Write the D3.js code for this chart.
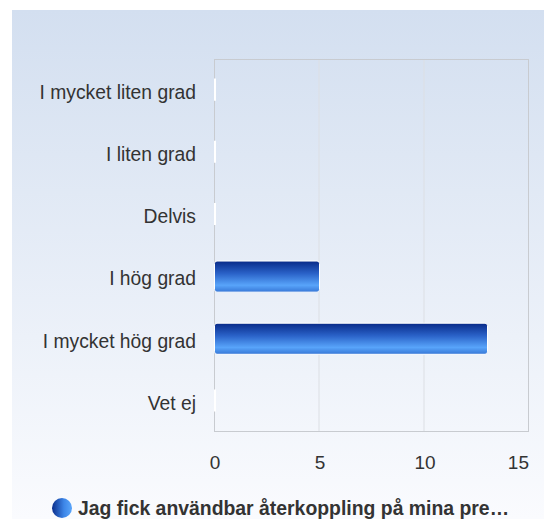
<!DOCTYPE html>
<html><head><meta charset="utf-8">
<script src="https://cdn.jsdelivr.net/npm/d3@7"></script>
<style>html,body{margin:0;padding:0;background:#fff;}svg{display:block;font-family:"Liberation Sans",Arial,sans-serif;}</style>
</head><body>
<script>
const categories = ["I mycket liten grad","I liten grad","Delvis","I hög grad","I mycket hög grad","Vet ej"];
const values = [0,0,0,5,13,0];
const tickValues = [0,5,10,15];
const seriesName = "Jag fick användbar återkoppling på mina pre…";

const W=544,H=519;
const svg=d3.select("body").append("svg").attr("width",W).attr("height",H);
const defs=svg.append("defs");
const bg=defs.append("linearGradient").attr("id","bg").attr("x1",0).attr("y1",0).attr("x2",0).attr("y2",1);
bg.append("stop").attr("offset","0%").attr("stop-color","#d3dff0");
bg.append("stop").attr("offset","100%").attr("stop-color","#fafbfe");
const bar=defs.append("linearGradient").attr("id","bar").attr("x1",0).attr("y1",0).attr("x2",0).attr("y2",1);
bar.append("stop").attr("offset","0%").attr("stop-color","#082a88");
bar.append("stop").attr("offset","40%").attr("stop-color","#2a62c8");
bar.append("stop").attr("offset","78%").attr("stop-color","#58a4fa");
bar.append("stop").attr("offset","100%").attr("stop-color","#3676d6");
const leg=defs.append("linearGradient").attr("id","leg").attr("x1",0).attr("y1",0).attr("x2",1).attr("y2",0);
leg.append("stop").attr("offset","0%").attr("stop-color","#0a2e8c");
leg.append("stop").attr("offset","60%").attr("stop-color","#3d86e8");
leg.append("stop").attr("offset","100%").attr("stop-color","#5aa6fb");

svg.append("rect").attr("x",12).attr("y",10).attr("width",W-12).attr("height",H-10).attr("fill","url(#bg)");

const m={l:214,r:529,t:59,b:432};
const x=d3.scaleLinear().domain([0,15]).range([m.l,m.r]);
const y=d3.scaleBand().domain(categories).range([m.t,m.b]).paddingInner(0.5).paddingOuter(0.25);

// grid
svg.append("g").selectAll("line").data(tickValues.slice(1,-1)).join("line")
  .attr("x1",d=>x(d)).attr("x2",d=>x(d)).attr("y1",m.t).attr("y2",m.b)
  .attr("stroke","#dcdfe4").attr("stroke-width",1);
svg.append("rect").attr("x",m.l+0.5).attr("y",m.t+0.5).attr("width",m.r-m.l-1).attr("height",m.b-m.t-1)
  .attr("fill","none").attr("stroke","#c8cbd0");

// bars
const data=categories.map((c,i)=>({c,v:values[i]}));
svg.append("g").selectAll("rect").data(data.filter(d=>d.v>0)).join("rect")
  .attr("x",x(0)+0.5).attr("y",d=>y(d.c)).attr("width",d=>x(d.v)-x(0)).attr("height",y.bandwidth())
  .attr("rx",2.5).attr("fill","url(#bar)").attr("stroke","#fff").attr("stroke-width",1);
svg.append("g").selectAll("line").data(data.filter(d=>d.v===0)).join("line")
  .attr("x1",x(0)+1).attr("x2",x(0)+1).attr("y1",d=>y(d.c)+4).attr("y2",d=>y(d.c)+y.bandwidth()-5)
  .attr("stroke","#fff").attr("stroke-width",2);

// y labels
svg.append("g").selectAll("text").data(categories).join("text")
  .attr("x",m.l-18).attr("y",d=>y(d)+y.bandwidth()/2+2).attr("dy","0.35em")
  .attr("text-anchor","end").attr("font-size",19.3).attr("fill","#333").text(d=>d);

// x ticks
svg.append("g").selectAll("text").data(tickValues).join("text")
  .attr("x",d=>d===tickValues[tickValues.length-1]?x(d):x(d)+1)
  .attr("y",462).attr("dy","0.35em")
  .attr("text-anchor",d=>d===tickValues[tickValues.length-1]?"end":"middle")
  .attr("font-size",19).attr("fill","#333").text(d=>d);

// legend
svg.append("circle").attr("cx",62).attr("cy",508).attr("r",10).attr("fill","url(#leg)");
svg.append("text").attr("x",78).attr("y",515).attr("font-size",19.4).attr("font-weight","bold")
  .attr("fill","#333").text(seriesName);
</script>
</body></html>
